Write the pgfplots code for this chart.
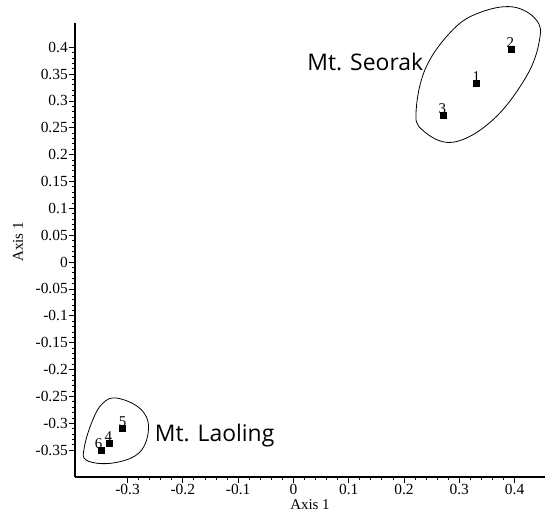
\documentclass[border=0pt]{standalone}
\usepackage{fontspec}
\setmainfont{Liberation Serif}
\newfontfamily\annfont{Open Sans}
\usepackage{pgfplots}
\pgfplotsset{compat=1.18}

\begin{document}
\begin{tikzpicture}
\begin{axis}[
  scale only axis, width=470bp, height=454bp,
  xmin=-0.395, xmax=0.455, ymin=-0.4, ymax=0.445,
  axis x line=bottom, axis y line=left,
  axis line style={-, line width=1.1pt},
  xtick={-0.3,-0.2,-0.1,0,0.1,0.2,0.3,0.4},
  ytick={-0.35,-0.3,-0.25,-0.2,-0.15,-0.1,-0.05,0,0.05,0.1,0.15,0.2,0.25,0.3,0.35,0.4},
  minor x tick num=4, minor y tick num=4,
  tick align=outside,
  major tick length=6bp, minor tick length=3bp,
  tick style={black, line width=0.8pt},
  /pgf/number format/assume math mode=true,
  /pgf/number format/fixed,
  /pgf/number format/precision=2,
  ticklabel style={font=\fontsize{15.5}{15.5}\selectfont, inner sep=1bp},
  xlabel={Axis 1}, ylabel={Axis 1},
  label style={font=\fontsize{15}{15}\selectfont},
  ylabel style={yshift=8bp, xshift=8bp},
  clip=false,
]
\addplot[only marks, mark=square*, mark size=3bp, black,
  nodes near coords, point meta=explicit symbolic,
  visualization depends on={\thisrow{dx}\as\dx},
  every node near coord/.append style={anchor=south, xshift=\dx bp,
    font=\fontsize{15}{15}\selectfont, inner sep=1bp}]
table[meta=lab] {
x      y      lab dx
0.331  0.333  1   0
0.394  0.397  2   -1
0.271  0.274  3   -1
-0.333 -0.337 4   -1
-0.309 -0.309 5   0
-0.347 -0.350 6   -3
};
\draw[line width=0.8pt] plot[smooth cycle, tension=0.65] coordinates {
  (0.396,0.475) (0.439,0.451) (0.445,0.413) (0.421,0.345) (0.360,0.264)
  (0.288,0.223) (0.233,0.246) (0.222,0.283) (0.240,0.363) (0.288,0.432)
  (0.336,0.464)};
\draw[line width=0.8pt] plot[smooth cycle, tension=0.65] coordinates {
  (-0.320,-0.253) (-0.278,-0.272) (-0.262,-0.307) (-0.278,-0.354)
  (-0.327,-0.374) (-0.374,-0.369) (-0.378,-0.344) (-0.363,-0.294)
  (-0.345,-0.263)};
\node[anchor=west, inner sep=0pt, font=\annfont\fontsize{23}{23}\selectfont] at (axis cs:0.025,0.372) {Mt. Seorak};
\node[anchor=west, inner sep=0pt, font=\annfont\fontsize{23}{23}\selectfont] at (axis cs:-0.251,-0.322) {Mt. Laoling};
\coordinate (bl) at (rel axis cs:0,0);
\coordinate (tr) at (rel axis cs:1,1);
\end{axis}
\path ([shift={(-75bp,-44bp)}]bl) rectangle ([shift={(2bp,23bp)}]tr);
\end{tikzpicture}
\end{document}
